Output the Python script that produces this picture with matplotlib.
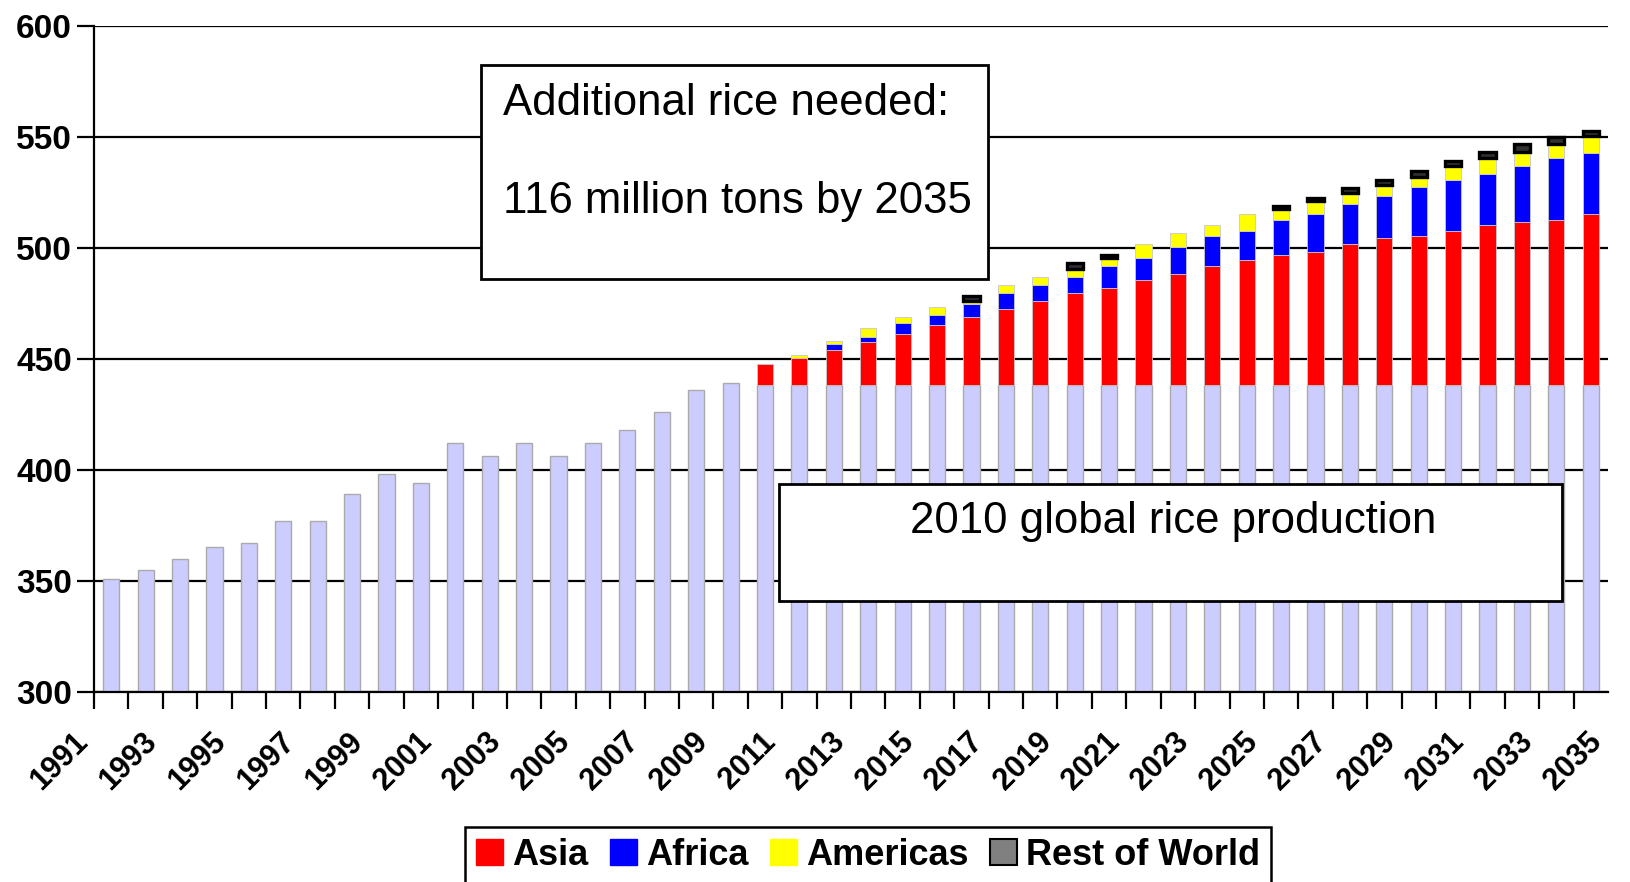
import matplotlib
matplotlib.use("Agg")
import matplotlib.pyplot as plt
import matplotlib.transforms as mtransforms
import numpy as np
from matplotlib.patches import Rectangle, Patch

plt.rcParams["font.family"] = ["Liberation Sans", "DejaVu Sans"]

# global rice production 1991-2009 (million tons)
production = [351, 355, 360, 365, 367, 377, 377, 389, 398, 394,
              412, 406, 412, 406, 412, 418, 426, 436, 439]
# 2010 level, used as the base of every projected bar
base_2010 = 438
# additional rice needed on top of the 2010 level, by region
asia = [9.8, 12.3, 16.0, 19.5, 23.2, 27.0, 30.7, 34.2, 37.9, 41.6, 44.0, 47.6, 50.2,
        53.9, 56.3, 58.7, 59.9, 63.7, 66.2, 67.3, 69.6, 72.2, 73.4, 74.6, 77.0]
africa = [0, 0, 2.4, 2.5, 4.8, 4.9, 6.0, 7.5, 7.5, 7.2, 9.9, 9.9, 11.9,
          13.4, 13.3, 15.9, 17.1, 18.1, 19.3, 22.0, 23.1, 23.2, 25.4, 28.0, 27.8]
americas = [0, 1.2, 1.4, 3.7, 2.7, 3.6, 1.2, 3.7, 3.6, 3.6, 3.6, 6.0, 6.3,
            4.9, 7.4, 4.8, 6.1, 4.8, 4.8, 4.6, 6.3, 7.2, 6.3, 6.0, 7.5]
rest_of_world = [0, 0, 0, 0, 0, 0, 2.5, 0, 0, 2.5, 1.2, 0, 0,
                 0, 0, 1.3, 1.2, 2.5, 2.4, 2.6, 2.2, 2.4, 3.5, 3.3, 2.3]
tick_years = list(range(1991, 2036, 2))

n_hist = len(production)
n_proj = len(asia)
x_hist = np.arange(n_hist)
x_proj = np.arange(n_hist, n_hist + n_proj)
width = 0.47

fig = plt.figure(figsize=(16.3, 8.82), dpi=100)
ax = fig.add_axes([0.0577, 0.2157, 0.9288, 0.7552])

ax.bar(x_hist, production, width=width, color="#CCCCFF", edgecolor="#AAAAAA", linewidth=1, zorder=2)
ax.bar(x_proj, [base_2010] * n_proj, width=width, color="#CCCCFF", edgecolor="#AAAAAA", linewidth=1, zorder=2)

bottom = np.full(n_proj, float(base_2010))
regions = [
    (asia, "#FF0000", "#C8C8C8", 0.6),
    (africa, "#0000FF", "#C8C8C8", 0.6),
    (americas, "#FFFF00", "#C8C8C8", 0.6),
    (rest_of_world, "#303030", "black", 2.4),
]
for vals, color, edge, lw in regions:
    vals = np.array(vals, dtype=float)
    m = vals > 0
    ax.bar(x_proj[m], vals[m], bottom=bottom[m], width=width, color=color,
           edgecolor=edge, linewidth=lw, zorder=2)
    bottom += vals

ax.set_ylim(300, 600)
ax.set_xlim(-0.5, n_hist + n_proj - 0.5)
ax.set_yticks(range(300, 601, 50))
ax.yaxis.grid(True, color="black", linewidth=1.6)
ax.set_axisbelow(True)
for side in ["top", "right"]:
    ax.spines[side].set_visible(False)
for side in ["left", "bottom"]:
    ax.spines[side].set_linewidth(1.6)

ax.xaxis.remove_overlapping_locs = False
ax.set_xticks(np.arange(-0.5, n_hist + n_proj - 1, 1), minor=True)
ax.set_xticks(np.arange(-0.5, n_hist + n_proj, 2))
ax.set_xticklabels([str(y) for y in tick_years], rotation=45, ha="right", va="top",
                   fontsize=22, fontweight="bold")
shift = mtransforms.ScaledTranslation(7 / 100, 0, fig.dpi_scale_trans)
for lbl in ax.get_xticklabels():
    lbl.set_transform(lbl.get_transform() + shift)
ax.tick_params(axis="x", which="minor", length=12, width=1.6, direction="out")
ax.tick_params(axis="x", which="major", length=0, pad=25)
ax.tick_params(axis="y", length=12, width=1.6, pad=4, labelsize=24)
for lbl in ax.get_yticklabels():
    lbl.set_fontweight("bold")

# annotation boxes
fig.add_artist(Rectangle((0.2951, 0.6837), 0.3110, 0.2426, transform=fig.transFigure,
                         facecolor="white", edgecolor="black", linewidth=2, zorder=5))
fig.text(0.3086, 0.8696, "Additional rice needed:", fontsize=31.5, va="baseline", ha="left", zorder=6)
fig.text(0.3086, 0.7585, "116 million tons by 2035", fontsize=31.5, va="baseline", ha="left", zorder=6)

fig.add_artist(Rectangle((0.4779, 0.3186), 0.4804, 0.1327, transform=fig.transFigure,
                         facecolor="white", edgecolor="black", linewidth=2, zorder=5))
fig.text(0.7196, 0.3957, "2010 global rice production", fontsize=31.5, va="baseline", ha="center", zorder=6)

handles = [Patch(facecolor="#FF0000", edgecolor="#FF0000"),
           Patch(facecolor="#0000FF", edgecolor="#0000FF"),
           Patch(facecolor="#FFFF00", edgecolor="#FFFF00"),
           Patch(facecolor="#808080", edgecolor="black", linewidth=1.5)]
leg = fig.legend(handles, ["Asia", "Africa", "Americas", "Rest of World"],
                 loc="upper center", bbox_to_anchor=(0.5325, 0.0624), ncol=4,
                 prop={"size": 26, "weight": "bold"}, frameon=True, fancybox=False,
                 edgecolor="black", framealpha=1, handlelength=0.75, handleheight=0.75,
                 handletextpad=0.25, columnspacing=0.6, borderpad=0.3, borderaxespad=0)
leg.get_frame().set_linewidth(1.8)

fig.savefig("out.png", dpi=100)
